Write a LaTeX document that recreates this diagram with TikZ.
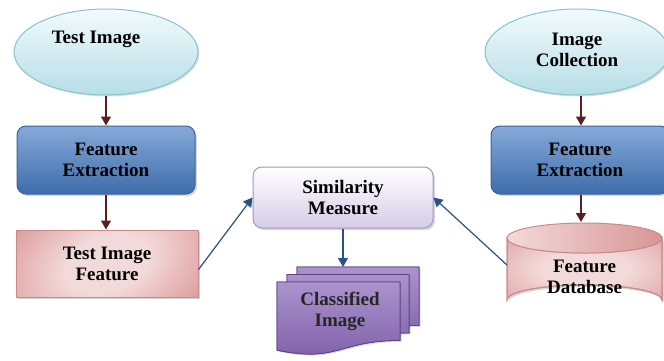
\documentclass[tikz,border=0pt]{standalone}
\usepackage{fontspec}
\setmainfont{Liberation Serif}
\usetikzlibrary{arrows.meta,shadows,shapes.geometric}

\definecolor{ellline}{HTML}{86C3CF}
\definecolor{elltop}{HTML}{F2FAFC}
\definecolor{ellbot}{HTML}{B6DEE7}
\definecolor{blueline}{HTML}{3A649A}
\definecolor{bluetop}{HTML}{86A9D9}
\definecolor{bluebot}{HTML}{3E6DAA}
\definecolor{pinkline}{HTML}{C98A8A}
\definecolor{pinkdark}{HTML}{D99595}
\definecolor{pinkmid}{HTML}{E6B4B4}
\definecolor{pinklight}{HTML}{F3DADA}
\definecolor{lavline}{HTML}{A595C2}
\definecolor{lavbot}{HTML}{D6CCE6}
\definecolor{purpline}{HTML}{5E4386}
\definecolor{purptop}{HTML}{AC93CD}
\definecolor{purpbot}{HTML}{7D5EA8}
\definecolor{redarrow}{HTML}{5C1F1F}
\definecolor{bluearrow}{HTML}{2A5188}

% soft pink glow: light centre, deeper pink towards the corners
\pgfdeclareradialshading{pinkglow}{\pgfpoint{0bp}{0bp}}{%
  color(0bp)=(pinklight); color(14bp)=(pinklight); color(30bp)=(pinkmid);
  color(45bp)=(pinkdark); color(72bp)=(pinkdark)}

\tikzset{
  terminal/.style={ellipse, draw=ellline, line width=1pt, top color=elltop,
    bottom color=ellbot, minimum width=184pt, minimum height=86pt, inner sep=0pt,
    drop shadow={shadow xshift=1.5pt, shadow yshift=-1.5pt, opacity=0.25}},
  process/.style={rectangle, rounded corners=9pt, draw=blueline, line width=1pt,
    top color=bluetop, bottom color=bluebot, minimum width=178pt, minimum height=68pt,
    inner sep=0pt, align=center,
    drop shadow={shadow xshift=2pt, shadow yshift=-2pt, opacity=0.3}},
  featbox/.style={rectangle, draw=pinkline, line width=1pt,
    shading=pinkglow, shading angle=20,
    minimum width=182pt, minimum height=67pt, inner sep=0pt, align=center,
    drop shadow={shadow xshift=2pt, shadow yshift=-2pt, opacity=0.35}},
  simbox/.style={rectangle, rounded corners=9pt, draw=lavline, line width=1pt,
    top color=white, bottom color=lavbot, minimum width=180pt, minimum height=61pt,
    inner sep=0pt, align=center,
    drop shadow={shadow xshift=2pt, shadow yshift=-2pt, opacity=0.3}},
  page/.style={draw=purpline, line width=0.8pt, top color=purptop, bottom color=purpbot},
  cylside/.style={draw=pinkline, line width=1pt, shading=pinkglow},
  cyltop/.style={draw=pinkline, line width=1pt, left color=pinklight, right color=pinkdark},
  label/.style={align=center, inner sep=0pt},
  redflow/.style={draw=redarrow, line width=1.4pt, -{Triangle[width=10pt,length=9pt]}},
  blueflow/.style={draw=bluearrow, line width=1.2pt, -{Triangle[width=10pt,length=9pt]}}
}

% one sheet of the document stack, with the wavy lower edge
\newcommand\docsheet[4]{%
  \fill[page, drop shadow={shadow xshift=1.5pt, shadow yshift=-1.5pt, opacity=0.3}]
    (#1,#2) -- ++(#3,0) -- ++(0,0.80*#4)
    .. controls ++(-0.5*#3,0) and ++(0.5*#3,0.173*#4) .. ++(-#3,0.134*#4) -- cycle;
  \draw[page, fill=none]
    (#1,#2) -- ++(#3,0) -- ++(0,0.80*#4)
    .. controls ++(-0.5*#3,0) and ++(0.5*#3,0.173*#4) .. ++(-#3,0.134*#4) -- cycle;
}

\begin{document}
\begin{tikzpicture}[x=1pt, y=-1pt, font=\bfseries\fontsize{19}{21}\selectfont]
\useasboundingbox (0,0) rectangle (664,360);

% left column
\node[terminal] (ti) at (106,52) {};
\node[label] (tilab) at (96,39) {Test Image};
\node[process] (fe1) at (106,160) {Feature\\Extraction};
\node[featbox] (tif) at (107,263.5) {Test Image\\Feature};

% right column
\node[terminal] (ic) at (577,52) {};
\node[label] (iclab) at (577,50) {Image\\Collection};
\node[process] (fe2) at (580,160) {Feature\\Extraction};

% feature database cylinder
\coordinate (dbtop) at (584.5,238);
\shade[cylside, drop shadow={shadow xshift=2pt, shadow yshift=-2pt, opacity=0.3}]
  (507,238) -- (507,300) arc[start angle=180, end angle=360, x radius=77.5, y radius=15]
  -- (662,238) arc[start angle=0, end angle=180, x radius=77.5, y radius=15] -- cycle;
\draw[draw=pinkline, line width=1pt]
  (507,238) -- (507,300) arc[start angle=180, end angle=360, x radius=77.5, y radius=15]
  -- (662,238);
\shade[cyltop] (dbtop) ellipse[x radius=77.5, y radius=15];
\node[label] (db) at (584.5,277) {Feature\\Database};
\coordinate (dbwest) at (507,265);
\coordinate (dbnorth) at (581,222);

% centre
\node[simbox] (sim) at (343,197.5) {Similarity\\Measure};

\docsheet{297}{267}{122}{73}
\docsheet{287}{274.5}{122}{73}
\docsheet{277}{282}{123}{73}
\coordinate (stacktop) at (343,267);
\node[label, text=black!85] (cls) at (340,311) {Classified\\Image};

% connectors
\draw[redflow] (ti.south) -- (fe1.north -| ti.south);
\draw[redflow] (fe1.south -| ti.south) -- (tif.north -| ti.south);
\draw[redflow] (ic.south -| dbnorth) -- (fe2.north -| dbnorth);
\draw[redflow] (fe2.south -| dbnorth) -- (dbnorth);
\draw[blueflow] ([yshift=-6pt]tif.east) -- (sim.west);
\draw[blueflow] (dbwest) -- (sim.east);
\draw[blueflow] (sim.south) -- (stacktop);
\end{tikzpicture}
\end{document}
